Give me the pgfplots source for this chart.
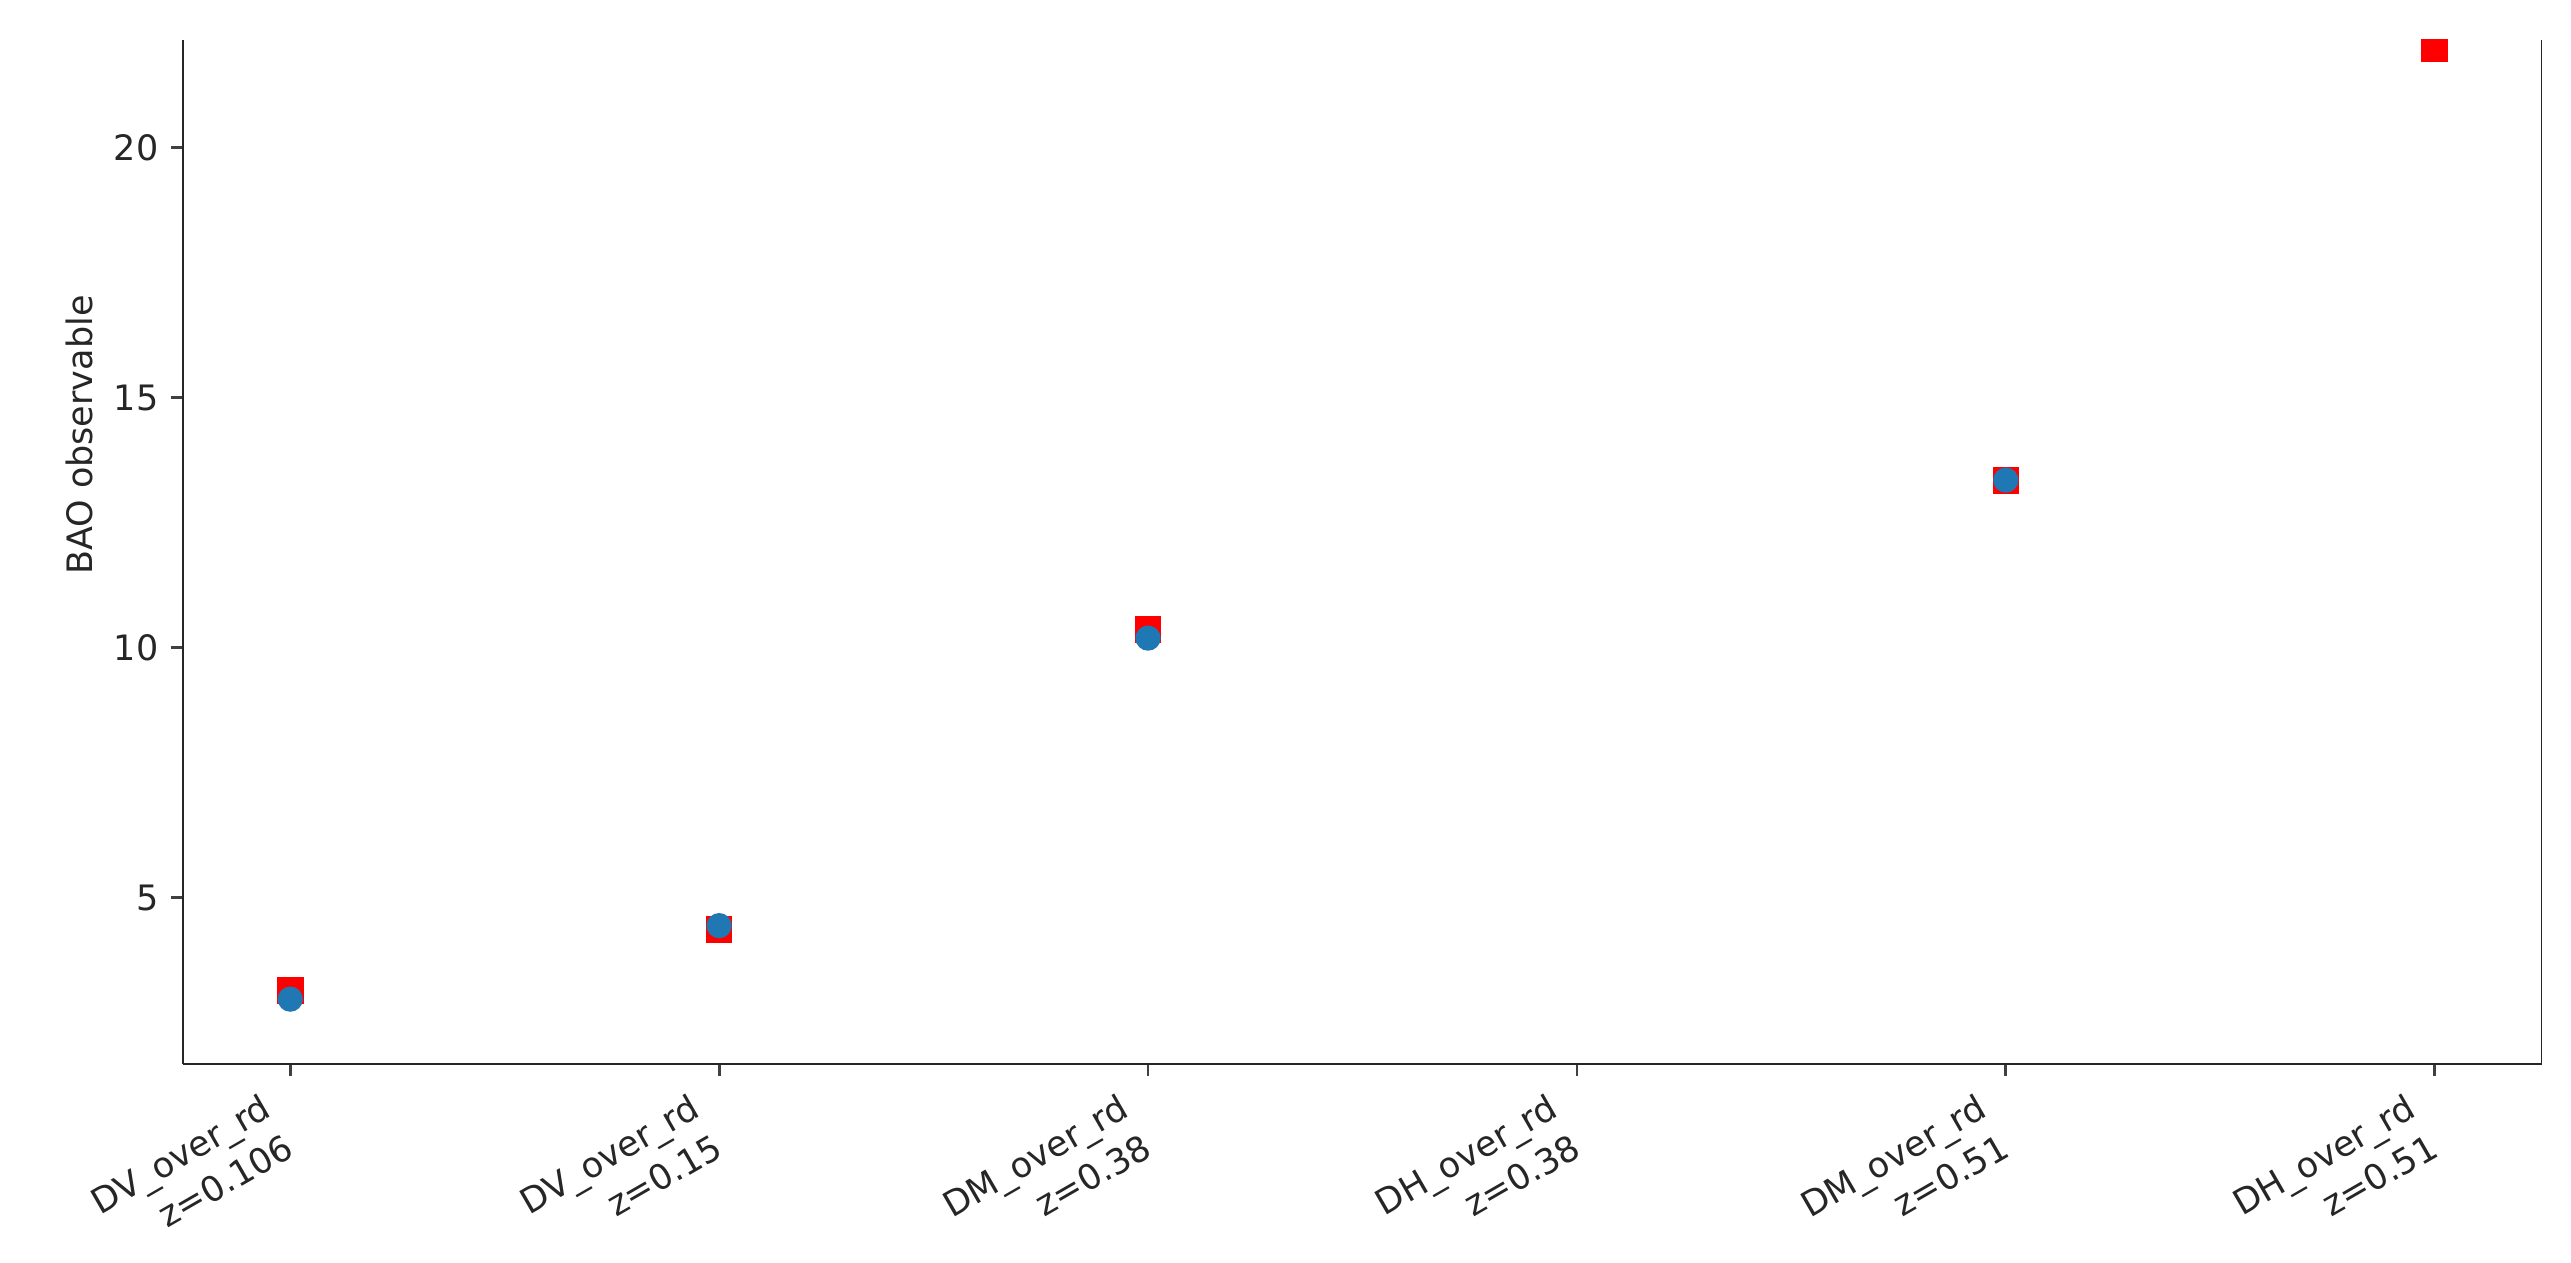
\documentclass[border=0pt]{standalone}
\usepackage{fontspec}
\setmainfont{DejaVu Sans}
\usepackage{pgfplots}
\pgfplotsset{compat=1.18}
\definecolor{mplblue}{HTML}{1F77B4}
\definecolor{mplred}{HTML}{FF0000}
\begin{document}
\begin{tikzpicture}
\useasboundingbox (-52.3pt,-56.6pt) rectangle (682.3pt,304.0pt);
\begin{axis}[
  at={(0,0)}, anchor=south west, scale only axis,
  width=674pt, height=292.6pt,
  xmin=-0.25, xmax=5.25, ymin=1.674, ymax=22.154,
  axis x line*=bottom, axis y line*=left,
  axis line style={-, line width=0.8pt, black!85},
  tick align=outside, major tick length=3.5pt,
  tick style={line width=0.8pt, black!75},
  xtick={0,1,2,3,4,5},
  xticklabels={{DV\_over\_rd\\z=0.106},{DV\_over\_rd\\z=0.15},{DM\_over\_rd\\z=0.38},{DH\_over\_rd\\z=0.38},{DM\_over\_rd\\z=0.51},{DH\_over\_rd\\z=0.51}},
  x tick label style={xshift=-8.6pt, yshift=-4.4pt, rotate=30, anchor=north east, align=right, inner sep=0pt, font=\fontsize{10}{13}\selectfont, text=black!85},
  ytick={5,10,15,20},
  y tick label style={font=\fontsize{10}{12}\selectfont, text=black!85},
  /pgf/number format/assume math mode=true,
  ylabel={BAO observable},
  ylabel style={at={(axis description cs:-0.044,0.614)}, anchor=center, font=\fontsize{10}{12}\selectfont, text=black!85},
  clip marker paths=true,
]
\addplot[only marks, mark=square*, mark size=3.5pt, draw=mplred, fill=mplred, line width=0.6pt] coordinates {
  (0,3.14) (1,4.36) (2,10.36) (3,24.9) (4,13.34) (5,21.98)
};
\addplot[only marks, mark=*, mark size=3.3pt, draw=mplblue, fill=mplblue, line width=0.6pt] coordinates {
  (0,2.97) (1,4.44) (2,10.19) (3,25.0) (4,13.35) (5,22.32)
};
\draw[line width=0.8pt, black!85] (rel axis cs:1,0) -- (rel axis cs:1,1);
\end{axis}
\end{tikzpicture}
\end{document}
